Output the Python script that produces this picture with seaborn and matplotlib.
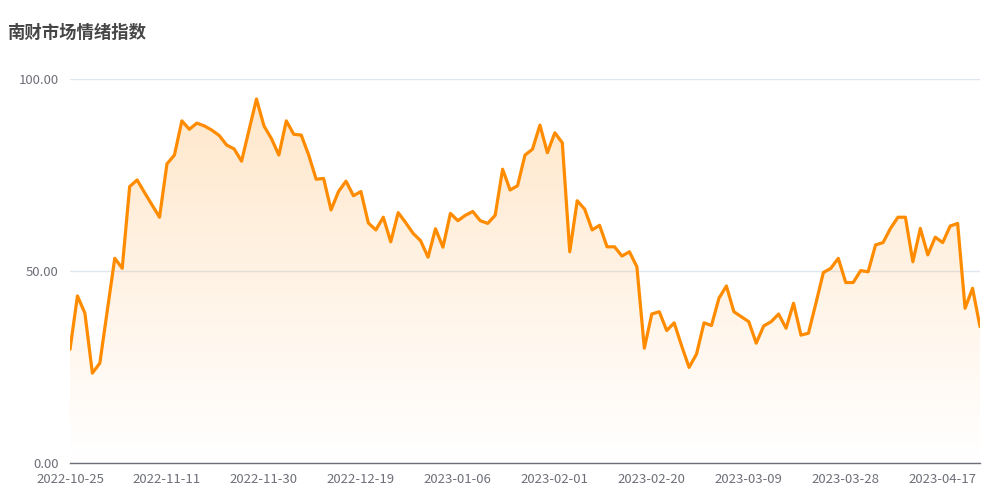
import numpy as np
import pandas as pd
import matplotlib.pyplot as plt
from matplotlib.colors import LinearSegmentedColormap
import seaborn as sns

# === Data ===
# trading days (A-share calendar) from 2022-10-25 to 2023-04-24
holidays = ["2023-01-02", "2023-01-23", "2023-01-24", "2023-01-25",
            "2023-01-26", "2023-01-27", "2023-04-05"]
dates = [d for d in pd.bdate_range("2022-10-25", "2023-04-24")
         if d.strftime("%Y-%m-%d") not in holidays]
date_labels = [d.strftime("%Y-%m-%d") for d in dates]

sentiment = [
    29.6, 43.5, 39.0, 23.4, 26.0, 39.7, 53.3, 50.7, 72.0, 73.7,
    70.4, 67.2, 64.0, 77.9, 80.2, 89.1, 86.9, 88.5, 87.8, 86.7,
    85.3, 82.8, 81.8, 78.6, 86.7, 94.8, 87.8, 84.5, 80.2, 89.1,
    85.6, 85.4, 80.2, 73.9, 74.1, 65.9, 70.7, 73.4, 69.6, 70.7,
    62.5, 60.7, 64.0, 57.6, 65.2, 62.6, 59.8, 57.9, 53.6, 61.0,
    56.2, 65.0, 63.1, 64.5, 65.5, 63.1, 62.4, 64.5, 76.5, 71.1,
    72.2, 80.2, 81.7, 88.0, 80.8, 86.0, 83.4, 55.0, 68.3, 66.1,
    60.7, 61.9, 56.3, 56.3, 53.9, 55.0, 51.1, 29.9, 38.8, 39.4,
    34.5, 36.5, 30.5, 24.9, 28.4, 36.5, 35.8, 42.9, 46.1, 39.4,
    38.1, 36.8, 31.2, 35.7, 36.8, 38.8, 35.1, 41.6, 33.3, 33.8,
    41.6, 49.6, 50.7, 53.3, 47.0, 47.0, 50.1, 49.8, 56.8, 57.4,
    61.1, 64.0, 64.0, 52.4, 61.1, 54.2, 58.8, 57.4, 61.7, 62.4,
    40.3, 45.5, 35.5,
]

df = pd.DataFrame({"pos": range(len(sentiment)), "date": date_labels[:len(sentiment)],
                   "value": sentiment})
tick_pos = list(range(0, len(df), 13))

# === Plot ===
sns.set_style("white")
plt.rcParams["font.family"] = ["Noto Sans CJK SC", "DejaVu Sans"]

fig = plt.figure(figsize=(10, 5), dpi=100)
ax = fig.add_axes([0.07, 0.074, 0.91, 0.768])

line_color = "#ff8c00"

# gradient area under the line
fill = ax.fill_between(df["pos"], df["value"], 0, color="none", lw=0)
grad_cmap = LinearSegmentedColormap.from_list(
    "grad", [(1, 0.55, 0, 0.0), (1, 0.55, 0, 0.22)])
grad = np.linspace(0, 1, 256).reshape(-1, 1)
img = ax.imshow(grad, cmap=grad_cmap, origin="lower", aspect="auto",
                extent=[0, len(df) - 1, 0, 100], zorder=1)
img.set_clip_path(fill.get_paths()[0], transform=ax.transData)

sns.lineplot(data=df, x="pos", y="value", color=line_color, linewidth=2.3,
             ax=ax, zorder=3)

ax.set_xlim(0, len(df) - 1)
ax.set_ylim(0, 100)
ax.set_yticks([0, 50, 100])
ax.set_yticklabels(["0.00", "50.00", "100.00"])
ax.set_xticks(tick_pos)
ax.set_xticklabels([df["date"][i] for i in tick_pos])
ax.tick_params(axis="both", length=0, colors="#6e7079", labelsize=9.5)
ax.tick_params(axis="y", pad=8)
ax.tick_params(axis="x", pad=7)
ax.set_xlabel("")
ax.set_ylabel("")

ax.grid(axis="y", color="#e0e6f1", linewidth=1)
ax.set_axisbelow(True)
for side in ["top", "right", "left"]:
    ax.spines[side].set_visible(False)
ax.spines["bottom"].set_color("#6e7079")
ax.spines["bottom"].set_linewidth(1)
ax.spines["bottom"].set_zorder(4)

fig.text(0.007, 0.935, "南财市场情绪指数", fontsize=12.5, fontweight="bold",
         color="#464646", va="center", ha="left")

plt.savefig("out.png", dpi=100)
plt.close()
